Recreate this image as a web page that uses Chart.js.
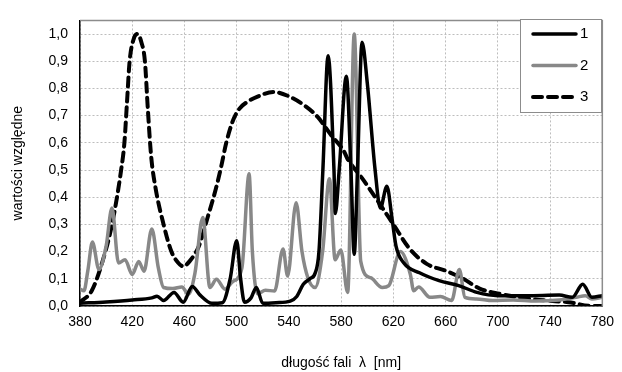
<!DOCTYPE html>
<html>
<head>
<meta charset="utf-8">
<script src="https://cdn.jsdelivr.net/npm/chart.js@4"></script>
<style>
  body { margin: 0; background: #fff; }
  #wrap { width: 622px; height: 372px; }
</style>
</head>
<body>
<div id="wrap"><canvas id="widmo"></canvas></div>
<script>
// krzywa 1 (czarna)
const wl1 = [380, 400, 420, 435, 439, 444, 452, 459, 466, 472, 481, 489, 495, 500, 503, 506, 511, 515, 520, 530, 541, 546, 551, 556, 560, 563, 566, 570, 574.5, 575.5, 578.5, 584, 587.5, 590, 592.5, 596, 600, 606, 610, 615, 619, 622, 628, 640, 655, 670, 684, 700, 722, 747, 757, 765, 772, 780];
const v1 = [0.01, 0.015, 0.022, 0.03, 0.036, 0.02, 0.05, 0.014, 0.072, 0.04, 0.01, 0.012, 0.1, 0.24, 0.1, 0.014, 0.03, 0.068, 0.01, 0.012, 0.018, 0.035, 0.08, 0.1, 0.12, 0.2, 0.5, 0.92, 0.5, 0.34, 0.5, 0.845, 0.5, 0.19, 0.5, 0.97, 0.82, 0.5, 0.36, 0.44, 0.32, 0.22, 0.158, 0.122, 0.093, 0.075, 0.05, 0.038, 0.038, 0.04, 0.032, 0.08, 0.032, 0.038];

// krzywa 2 (szara)
const wl2 = [380, 383, 386, 389.5, 394.5, 400, 404.5, 409.5, 414.5, 420, 425, 429, 435, 440, 444, 451, 458, 463, 468, 474, 479.5, 484.5, 491, 497, 504, 509.5, 512, 516, 522, 529, 535.5, 539, 545.5, 550, 554.5, 560, 565.8, 571, 575.4, 579.7, 585, 590, 595, 602.5, 611.5, 616.5, 625.3, 633, 635.5, 639.3, 648, 656, 664.6, 670.5, 674.8, 683.6, 696, 711.6, 729, 747, 760, 767, 772, 780];
const v2 = [0.062, 0.056, 0.13, 0.235, 0.134, 0.22, 0.36, 0.158, 0.17, 0.116, 0.164, 0.128, 0.283, 0.14, 0.068, 0.064, 0.07, 0.044, 0.12, 0.325, 0.068, 0.098, 0.062, 0.09, 0.14, 0.486, 0.2, 0.045, 0.058, 0.055, 0.21, 0.11, 0.38, 0.2, 0.104, 0.068, 0.2, 0.468, 0.17, 0.206, 0.05, 1.0, 0.164, 0.104, 0.068, 0.075, 0.2, 0.116, 0.056, 0.07, 0.032, 0.035, 0.02, 0.134, 0.032, 0.026, 0.02, 0.022, 0.018, 0.022, 0.032, 0.038, 0.026, 0.032];

// krzywa 3 (przerywana)
const wl3 = [380, 389, 397, 404.5, 411.5, 414, 416, 418, 421, 424, 427, 429.7, 432, 434.5, 438, 444, 450, 455, 459, 464, 471, 478, 484, 488, 492, 497, 502, 508, 516, 528, 539, 552, 562, 572, 582, 585, 596, 607.5, 620, 632.5, 645.5, 661, 673.5, 686, 701, 721.7, 742, 754, 772, 780];
const v3 = [0.014, 0.056, 0.16, 0.3, 0.5, 0.6, 0.75, 0.9, 0.98, 1.0, 0.97, 0.9, 0.72, 0.55, 0.43, 0.3, 0.2, 0.16, 0.146, 0.165, 0.22, 0.33, 0.43, 0.51, 0.6, 0.68, 0.725, 0.75, 0.77, 0.787, 0.773, 0.737, 0.695, 0.63, 0.57, 0.54, 0.47, 0.39, 0.3, 0.21, 0.155, 0.128, 0.1, 0.064, 0.045, 0.028, 0.018, 0.014, 0.0, 0.0];

const labels = ['1', '2', '3'];
const xTicks = [380, 420, 460, 500, 540, 580, 620, 660, 700, 740, 780];

const FONT = 'Liberation Sans, Arial, sans-serif';

function pts(xs, ys) {
    return xs.map((x, i) => ({ x: x, y: ys[i] }));
}

const frame = {
    id: 'frame',
    afterDraw(chart) {
        const { ctx, chartArea: a } = chart;
        ctx.save();
        // gorna i prawa krawedz obszaru
        ctx.strokeStyle = '#8c8c8c';
        ctx.lineWidth = 1.5;
        ctx.beginPath();
        ctx.moveTo(a.left, a.top);
        ctx.lineTo(a.right, a.top);
        ctx.lineTo(a.right, a.bottom);
        ctx.stroke();

        // legenda
        const bx = 520, by = 19, bw = 81, bh = 93;
        ctx.fillStyle = '#fff';
        ctx.fillRect(bx, by, bw, bh);
        ctx.strokeStyle = '#8c8c8c';
        ctx.lineWidth = 1;
        ctx.strokeRect(bx + 0.5, by + 0.5, bw, bh);
        ctx.font = '15px ' + FONT;
        ctx.textBaseline = 'middle';
        chart.data.datasets.forEach((ds, i) => {
            const y = 34 + i * 31.5;
            ctx.strokeStyle = ds.borderColor;
            ctx.lineWidth = ds.borderWidth;
            ctx.lineCap = 'round';
            ctx.setLineDash(ds.borderDash || []);
            ctx.beginPath();
            ctx.moveTo(533, y);
            ctx.lineTo(576, y);
            ctx.stroke();
            ctx.setLineDash([]);
            ctx.fillStyle = '#000';
            ctx.fillText(ds.label, 580, y);
        });
        ctx.restore();
    }
};

const common = {
    showLine: true,
    pointRadius: 0,
    fill: false,
    cubicInterpolationMode: 'monotone',
    borderCapStyle: 'round',
    borderJoinStyle: 'round'
};

const config = {
    type: 'scatter',
    data: {
        datasets: [
            Object.assign({ label: labels[0], data: pts(wl1, v1), borderColor: '#000', borderWidth: 3.5 }, common),
            Object.assign({ label: labels[1], data: pts(wl2, v2), borderColor: '#888888', borderWidth: 3.5 }, common),
            Object.assign({ label: labels[2], data: pts(wl3, v3), borderColor: '#000', borderWidth: 4, borderDash: [9, 6] }, common)
        ]
    },
    options: {
        responsive: true,
        maintainAspectRatio: false,
        animation: false,
        layout: { padding: { top: 13, right: 15, left: 0, bottom: 0 } },
        plugins: {
            legend: { display: false },
            tooltip: { enabled: false }
        },
        scales: {
            x: {
                type: 'linear',
                min: 380,
                max: 780,
                afterFit: (s) => { s.height = 66; },
                afterBuildTicks: (s) => { s.ticks = xTicks.map(v => ({ value: v })); },
                ticks: {
                    color: '#000',
                    padding: 8,
                    font: { family: FONT, size: 14 }
                },
                grid: { color: '#bdbdbd', lineWidth: 1, drawTicks: false },
                border: { color: '#000', width: 1.5, dash: [2, 2] },
                title: {
                    display: true,
                    text: 'długość fali  λ  [nm]',
                    color: '#000',
                    padding: { top: 0, bottom: 0 },
                    font: { family: FONT, size: 14 }
                }
            },
            y: {
                min: 0,
                max: 1.05,
                afterFit: (s) => { s.width = 80; },
                ticks: {
                    stepSize: 0.1,
                    includeBounds: false,
                    color: '#000',
                    padding: 12,
                    font: { family: FONT, size: 14 },
                    callback: (v) => v.toFixed(1).replace('.', ',')
                },
                grid: { color: '#bdbdbd', lineWidth: 1, drawTicks: false },
                border: { color: '#000', width: 1.5, dash: [2, 2] },
                title: {
                    display: true,
                    text: 'wartości względne',
                    color: '#000',
                    padding: { top: 10, bottom: 0 },
                    font: { family: FONT, size: 14 }
                }
            }
        }
    },
    plugins: [frame]
};

new Chart(document.getElementById('widmo'), config);
</script>
</body>
</html>
